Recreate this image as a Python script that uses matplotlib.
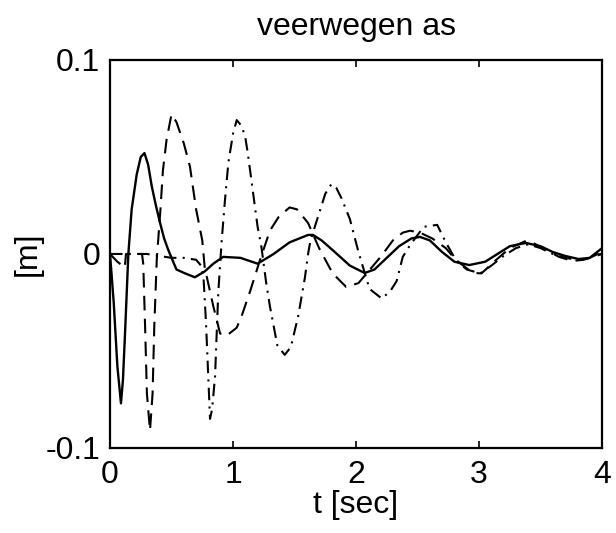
import matplotlib
matplotlib.use("Agg")
import matplotlib.pyplot as plt

plt.rcParams['font.family'] = ['Liberation Sans', 'DejaVu Sans']

# solid curve
t_solid = [0.00, 0.03, 0.06, 0.089, 0.105, 0.122, 0.149, 0.176, 0.217, 0.25,
           0.28, 0.31, 0.339, 0.373, 0.407, 0.44, 0.474, 0.54, 0.61, 0.69,
           0.77, 0.84, 0.92, 1.06, 1.20, 1.33, 1.46, 1.61, 1.65, 1.72,
           1.81, 1.95, 2.07, 2.15, 2.25, 2.35, 2.45, 2.52, 2.60, 2.70,
           2.80, 2.92, 3.05, 3.15, 3.25, 3.38, 3.50, 3.60, 3.70, 3.81,
           3.90, 4.00]
y_solid = [0.000, -0.025, -0.058, -0.077, -0.065, -0.041, 0.000, 0.023, 0.041, 0.050,
           0.052, 0.046, 0.035, 0.025, 0.016, 0.008, 0.002, -0.008, -0.010, -0.012,
           -0.009, -0.005, -0.0015, -0.002, -0.005, 0.000, 0.006, 0.0098, 0.0098, 0.007,
           0.002, -0.006, -0.0098, -0.008, -0.002, 0.004, 0.008, 0.0088, 0.007, 0.001,
           -0.004, -0.0057, -0.004, 0.000, 0.004, 0.0057, 0.004, 0.001, -0.001, -0.0026,
           -0.002, 0.003]

# dashed curve
t_dash = [0.00, 0.06, 0.12, 0.13, 0.20, 0.26, 0.27, 0.285, 0.30, 0.325,
          0.346, 0.36, 0.38, 0.41, 0.43, 0.46, 0.50, 0.54, 0.60, 0.65,
          0.70, 0.75, 0.77, 0.84, 0.895, 0.95, 1.03, 1.07, 1.14, 1.22,
          1.30, 1.37, 1.46, 1.52, 1.61, 1.70, 1.81, 1.92, 2.02, 2.10,
          2.20, 2.30, 2.38, 2.44, 2.52, 2.62, 2.73, 2.81, 2.95, 3.02,
          3.14, 3.25, 3.38, 3.43, 3.55, 3.65, 3.76, 3.85, 3.93, 4.00]
y_dash = [0.000, -0.004, -0.007, 0.000, 0.000, 0.000, -0.005, -0.037, -0.072, -0.091,
          -0.072, -0.037, -0.003, 0.023, 0.043, 0.059, 0.072, 0.068, 0.057, 0.045,
          0.023, 0.007, -0.007, -0.027, -0.041, -0.042, -0.038, -0.032, -0.019, -0.003,
          0.012, 0.019, 0.024, 0.023, 0.016, 0.003, -0.010, -0.017, -0.015, -0.009,
          -0.0015, 0.007, 0.011, 0.012, 0.011, 0.008, 0.003, -0.003, -0.0098, -0.010,
          -0.003, 0.003, 0.0067, 0.006, 0.002, -0.0015, -0.0036, -0.003, -0.0015, 0.000]

# dash-dot curve
t_dd = [0.00, 0.10, 0.20, 0.30, 0.40, 0.50, 0.60, 0.70, 0.74, 0.76,
        0.78, 0.80, 0.813, 0.83, 0.854, 0.88, 0.908, 0.935, 0.962, 1.00,
        1.03, 1.07, 1.10, 1.12, 1.16, 1.20, 1.23, 1.27, 1.30, 1.36,
        1.42, 1.47, 1.53, 1.585, 1.61, 1.63, 1.70, 1.75, 1.80, 1.84,
        1.88, 1.95, 2.02, 2.11, 2.21, 2.28, 2.33, 2.38, 2.44, 2.55,
        2.66, 2.73, 2.81, 2.90, 3.01, 3.10, 3.20, 3.30, 3.40, 3.50,
        3.60, 3.70, 3.80, 3.90, 4.00]
y_dd = [0.000, 0.000, 0.000, 0.000, -0.001, -0.002, -0.002, -0.003, -0.006, -0.012,
        -0.035, -0.065, -0.085, -0.080, -0.063, -0.020, 0.007, 0.028, 0.047, 0.062,
        0.069, 0.066, 0.060, 0.052, 0.033, 0.014, 0.004, -0.015, -0.027, -0.047,
        -0.052, -0.048, -0.032, -0.012, 0.000, 0.007, 0.021, 0.031, 0.036, 0.034,
        0.029, 0.018, 0.001, -0.018, -0.023, -0.019, -0.014, -0.0015, 0.0046, 0.014,
        0.015, 0.006, -0.003, -0.008, -0.010, -0.006, -0.001, 0.003, 0.005, 0.003,
        0.000, -0.002, -0.003, -0.002, 0.001]

xticks = [0, 1, 2, 3, 4]
yticks = [-0.1, 0, 0.1]
ytick_labels = ['-0.1', '0', '0.1']

fig = plt.figure(figsize=(6.16, 5.33), dpi=100)
ax = fig.add_axes([0.1786, 0.1595, 0.7987, 0.728])

ax.plot(t_solid, y_solid, color='black', lw=1.7, ls='-')
ax.plot(t_dash, y_dash, color='black', lw=1.5, dashes=(7, 4))
ax.plot(t_dd, y_dd, color='black', lw=1.5, dashes=(6, 3, 1, 3))

ax.set_xlim(0, 4)
ax.set_ylim(-0.1, 0.1)
ax.set_xticks(xticks)
ax.set_xticklabels([str(v) for v in xticks])
ax.set_yticks(yticks)
ax.set_yticklabels(ytick_labels)
ax.tick_params(direction='in', length=5, width=1.2, top=True, right=True,
               labelsize=23)
ax.tick_params(axis='x', pad=9)
ax.tick_params(axis='y', pad=7)
for s in ax.spines.values():
    s.set_linewidth(1.6)

ax.set_title('veerwegen as', fontsize=23, pad=18)
ax.set_xlabel('t [sec]', fontsize=23, labelpad=0)
ax.set_ylabel('[m]', fontsize=23, labelpad=2)

fig.savefig('out.png', dpi=100, facecolor='white')
